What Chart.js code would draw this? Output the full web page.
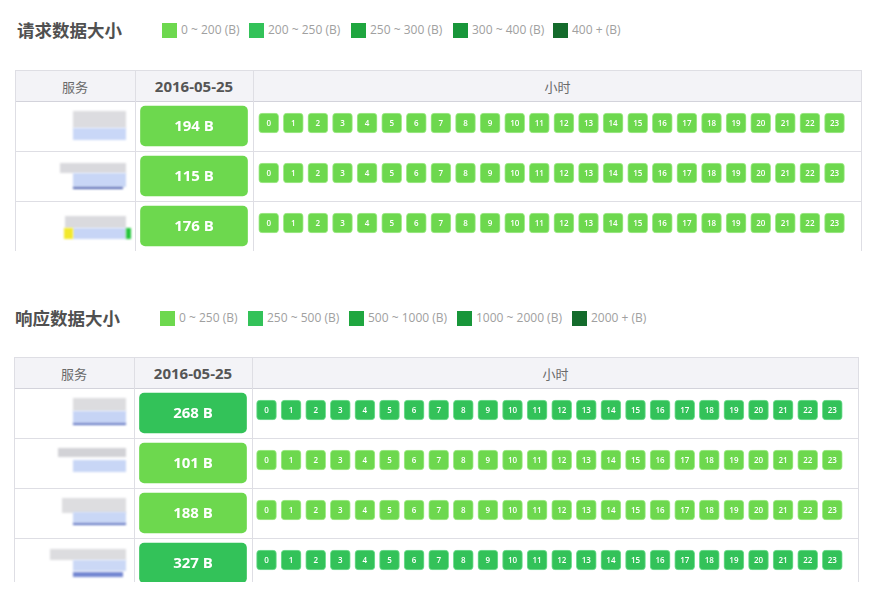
<!DOCTYPE html>
<html>
<head>
<meta charset="utf-8">
<script src="https://cdn.jsdelivr.net/npm/chart.js@4/dist/chart.umd.min.js"></script>
<style>
  html, body { margin: 0; padding: 0; background: #fff; width: 876px; height: 599px; overflow: hidden; }
  body { position: relative; font-family: "Open Sans", "Noto Sans CJK SC", sans-serif; }
  canvas { position: absolute; }
</style>
</head>
<body>
<script>
// ---------------- DATA ----------------
const colHeaders = ['服务', '2016-05-25', '小时'];
const dates = ['2016-05-25'];
const hours = ['0','1','2','3','4','5','6','7','8','9','10','11','12','13','14','15','16','17','18','19','20','21','22','23'];

const reqTitle = '请求数据大小';
const reqLegend = ['0 ~ 200 (B)', '200 ~ 250 (B)', '250 ~ 300 (B)', '300 ~ 400 (B)', '400 + (B)'];
const reqThresholds = [200, 250, 300, 400];
const reqServices = ['svc-1', 'svc-2', 'svc-3'];
const reqDaily = [194, 115, 176];
const reqHourLevels = [
  [0,0,0,0,0,0,0,0,0,0,0,0,0,0,0,0,0,0,0,0,0,0,0,0],
  [0,0,0,0,0,0,0,0,0,0,0,0,0,0,0,0,0,0,0,0,0,0,0,0],
  [0,0,0,0,0,0,0,0,0,0,0,0,0,0,0,0,0,0,0,0,0,0,0,0]
];

const respTitle = '响应数据大小';
const respLegend = ['0 ~ 250 (B)', '250 ~ 500 (B)', '500 ~ 1000 (B)', '1000 ~ 2000 (B)', '2000 + (B)'];
const respThresholds = [250, 500, 1000, 2000];
const respServices = ['svc-a', 'svc-b', 'svc-c', 'svc-d'];
const respDaily = [268, 101, 188, 327];
const respHourLevels = [
  [1,1,1,1,1,1,1,1,1,1,1,1,1,1,1,1,1,1,1,1,1,1,1,1],
  [0,0,0,0,0,0,0,0,0,0,0,0,0,0,0,0,0,0,0,0,0,0,0,0],
  [0,0,0,0,0,0,0,0,0,0,0,0,0,0,0,0,0,0,0,0,0,0,0,0],
  [1,1,1,1,1,1,1,1,1,1,1,1,1,1,1,1,1,1,1,1,1,1,1,1]
];

// ---------------- STYLE ----------------
const levelColors = ['#6dd84e', '#33c259', '#1fa63f', '#18963a', '#146b2c'];
const glowColors  = ['#a6eb90', '#7ade97', '#5cc275', '#55b870', '#4f8f5f'];

const level = (v, th) => th.filter(t => v >= t).length;

const cellText = {
  id: 'cellText',
  afterDatasetsDraw(chart, args, o) {
    const ctx = chart.ctx;
    ctx.save();
    ctx.fillStyle = o.color || '#fff';
    ctx.font = o.font;
    ctx.textAlign = 'center';
    ctx.textBaseline = 'middle';
    chart.data.datasets.forEach((ds, di) => {
      chart.getDatasetMeta(di).data.forEach((bar, i) => {
        const p = bar.getCenterPoint();
        ctx.fillText(ds.texts[i], p.x, p.y + (o.dy || 0));
      });
    });
    ctx.restore();
  }
};

function el(parent, css, text) {
  const d = document.createElement('div');
  d.style.position = 'absolute';
  Object.assign(d.style, css);
  if (text != null) d.textContent = text;
  parent.appendChild(d);
  return d;
}
const px = v => v + 'px';

function makeChart(parent, left, top, width, height, padL, padR, labels, datasets, font, dy, nRows) {
  const c = document.createElement('canvas');
  c.width = width; c.height = height;
  c.style.left = px(left); c.style.top = px(top);
  c.style.width = px(width); c.style.height = px(height);
  parent.appendChild(c);
  return new Chart(c, {
    type: 'bar',
    data: { labels, datasets },
    options: {
      responsive: false, animation: false, devicePixelRatio: 1,
      layout: { padding: { left: padL, right: padR, top: 0, bottom: 0 } },
      plugins: { legend: { display: false }, tooltip: { enabled: false }, cellText: { font, dy } },
      scales: {
        x: { type: 'category', display: false, offset: true },
        y: { type: 'linear', display: false, min: -0.5, max: nRows - 0.5, reverse: true }
      }
    },
    plugins: [cellText]
  });
}

function buildSection(L, title, legendLabels, services, daily, thresholds, hourLevels) {
  const root = document.body;
  el(root, { left: px(L.titleX), top: px(L.titleY - 13), height: '26px', lineHeight: '26px',
    font: '700 17.5px "Noto Sans CJK SC"', color: '#505050', whiteSpace: 'nowrap' }, title);
  legendLabels.forEach((lab, i) => {
    el(root, { left: px(L.legendX[i]), top: px(L.titleY - 7.5), width: '15px', height: '15px', background: levelColors[i] });
    el(root, { left: px(L.legendX[i] + 19), top: px(L.titleY - 9), lineHeight: '18px',
      font: '400 12px "Open Sans"', color: '#a0a0a0', whiteSpace: 'nowrap' }, lab);
  });

  const w = L.right - L.left, h = L.bottom - L.top, headH = L.head - L.top, n = services.length;
  const box = el(root, { left: px(L.left), top: px(L.top), width: px(w), height: px(h), overflow: 'hidden' });
  const line = '#dedee4';
  el(box, { left: 0, top: 0, width: px(w), height: px(headH), background: '#f3f3f7' });
  el(box, { left: 0, top: 0, width: px(w), height: '1px', background: line });
  el(box, { left: 0, top: px(headH), width: px(w), height: '1px', background: '#d3d3db' });
  for (let r = 1; r < n; r++) el(box, { left: 0, top: px(headH + 50 * r), width: px(w), height: '1px', background: line });
  el(box, { left: 0, top: 0, width: '1px', height: px(h), background: line });
  el(box, { left: px(w - 1), top: 0, width: '1px', height: px(h), background: line });
  [L.col1, L.col2].forEach(c => el(box, { left: px(c - L.left), top: 0, width: '1px', height: px(h), background: line }));

  const cols = [[0, L.col1 - L.left], [L.col1 - L.left, L.col2 - L.left], [L.col2 - L.left, w]];
  colHeaders.forEach((t, i) => {
    el(box, { left: px(cols[i][0]), top: '1px', width: px(cols[i][1] - cols[i][0]), height: px(headH - 1),
      display: 'flex', alignItems: 'center', justifyContent: 'center',
      font: i === 1 ? '700 15px "Open Sans"' : '400 13px "Noto Sans CJK SC"',
      color: i === 1 ? '#555' : '#6a6a6a' }, t);
  });

  // redacted (blurred) service names
  L.masks.forEach(m => el(box, { left: px(m[0] - L.left), top: px(m[1] - L.top), width: px(m[2]), height: px(m[3]),
    background: m[4], filter: 'blur(1px)' }));

  // daily cells
  const dailySets = daily.map((v, r) => ({
    data: [[r - 0.4, r + 0.4]],
    backgroundColor: levelColors[level(v, thresholds)],
    borderRadius: 5, borderSkipped: false, barThickness: 107, grouped: false,
    texts: [v + ' B']
  }));
  makeChart(box, L.col1 - L.left, headH, L.col2 - L.col1, n * 50, 0, 0, dates, dailySets, '700 15px "Open Sans"', 1, n);

  // hourly cells
  const hourSets = hourLevels.map((lv, r) => ({
    data: hours.map(() => [r - 0.2, r + 0.2]),
    backgroundColor: lv.map(l => levelColors[l]),
    borderColor: lv.map(l => glowColors[l]),
    borderWidth: 1,
    borderRadius: 4, borderSkipped: false, barThickness: 20, grouped: false,
    texts: hours
  }));
  const hl = L.hourLeft - L.left, cl = Math.floor(hl), cw = Math.ceil(L.hourW + (hl - cl)) + 1;
  makeChart(box, cl, headH - 3, cw, n * 50, hl - cl, cw - L.hourW - (hl - cl), hours, hourSets, '600 8px "Open Sans"', 0.5, n);
}

const L1 = {
  titleX: 17, titleY: 30, legendX: [162, 249, 351, 453, 553],
  left: 15, right: 862, top: 70, head: 101, col1: 135, col2: 253, bottom: 251,
  hourLeft: 256.4, hourW: 590.4,
  masks: [
    [73, 111, 53, 17, '#dcdce0'], [73, 128, 53, 12, '#c9d7f7'],
    [60, 163, 66, 10, '#d9d9dd'], [73, 173, 53, 14, '#c8d6f6'], [73, 187, 50, 2, '#4a5fae'],
    [65, 216, 61, 12, '#dadade'], [73, 228, 53, 11, '#c7d5f6'], [64, 228, 9, 11, '#f2e82c'], [126, 228, 5, 11, '#23c43b']
  ]
};
const L2 = {
  titleX: 15, titleY: 318, legendX: [160, 248, 349, 457, 572],
  left: 14, right: 859, top: 357, head: 388, col1: 134, col2: 252, bottom: 582,
  hourLeft: 254.2, hourW: 590.4,
  masks: [
    [73, 398, 53, 13, '#dcdcdf'], [73, 411, 53, 12, '#c6d4f5'], [73, 423, 53, 2, '#5a6fc0'],
    [58, 448, 68, 9, '#d2d2d6'], [73, 460, 53, 12, '#c8d6f6'],
    [62, 498, 64, 15, '#dddde0'], [73, 512, 53, 11, '#c9d7f6'], [73, 523, 53, 2, '#5a6fc0'],
    [50, 549, 76, 11, '#dcdcdf'], [73, 560, 53, 11, '#cbd8f6'], [73, 572, 50, 5, '#7487d2']
  ]
};

buildSection(L1, reqTitle, reqLegend, reqServices, reqDaily, reqThresholds, reqHourLevels);
buildSection(L2, respTitle, respLegend, respServices, respDaily, respThresholds, respHourLevels);
</script>
</body>
</html>
